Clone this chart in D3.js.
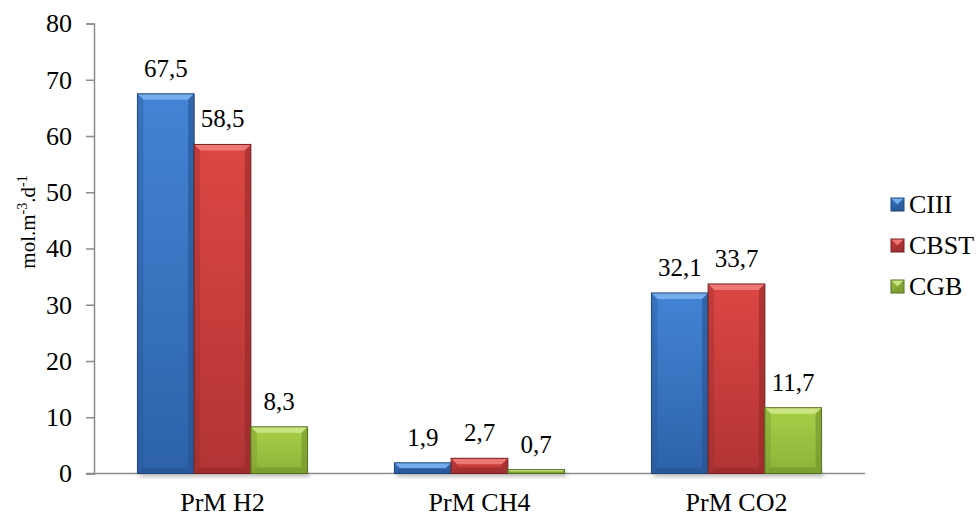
<!DOCTYPE html>
<html>
<head>
<meta charset="utf-8">
<script src="https://cdn.jsdelivr.net/npm/d3@7"></script>
<style>
  html, body { margin: 0; padding: 0; background: #fff; }
  svg { display: block; font-family: "Liberation Serif", "Times New Roman", serif; }
</style>
</head>
<body>
<svg id="chart" width="977" height="517"></svg>
<script>
// Production rates per reactor configuration
const categories = ["PrM H2", "PrM CH4", "PrM CO2"];
const seriesNames = ["CIII", "CBST", "CGB"];
const valuesCIII = [67.5, 1.9, 32.1];
const valuesCBST = [58.5, 2.7, 33.7];
const valuesCGB = [8.3, 0.7, 11.7];
const yTicks = [0, 10, 20, 30, 40, 50, 60, 70, 80];

const seriesValues = [valuesCIII, valuesCBST, valuesCGB];

// bar palettes: top / bottom body, bevel highlight, bevel shade, outline
const palettes = [
  { top: "#4384d4", bottom: "#2d62aa", light: "#7ab2ee", dark: "#24528f", stroke: "#1f4677" },
  { top: "#dc4744", bottom: "#b23434", light: "#f07d7a", dark: "#922a2a", stroke: "#762121" },
  { top: "#a9cf48", bottom: "#8db239", light: "#cfe78a", dark: "#71912c", stroke: "#566f22" }
];

const svg = d3.select("#chart");
const defs = svg.append("defs");

palettes.forEach((p, i) => {
  const g = defs.append("linearGradient")
    .attr("id", "body" + i).attr("x1", 0).attr("y1", 0).attr("x2", 0).attr("y2", 1);
  g.append("stop").attr("offset", "0%").attr("stop-color", p.top);
  g.append("stop").attr("offset", "100%").attr("stop-color", p.bottom);
});

const blur = defs.append("filter").attr("id", "shadow")
  .attr("x", "-20%").attr("y", "-50%").attr("width", "140%").attr("height", "200%");
blur.append("feGaussianBlur").attr("stdDeviation", 2);

const plotLeft = 94, plotRight = 865, plotTop = 23.5, plotBottom = 473.5;
const fontFamily = "Liberation Serif, Times New Roman, serif";

const x0 = d3.scaleBand()
  .domain(categories)
  .range([plotLeft, plotRight])
  .paddingInner(0.338)
  .paddingOuter(0.169);

const x1 = d3.scaleBand()
  .domain(seriesNames)
  .range([0, x0.bandwidth()]);

const y = d3.scaleLinear().domain([0, 80]).range([plotBottom, plotTop]);

// Y axis
const yAxis = svg.append("g")
  .attr("transform", `translate(${plotLeft},0)`)
  .call(d3.axisLeft(y).tickValues(yTicks).tickSize(8).tickPadding(14).tickFormat(d3.format("d")));
yAxis.attr("font-family", fontFamily);
yAxis.select(".domain").attr("stroke", "#8c8c8c").attr("stroke-width", 1.5);
yAxis.selectAll(".tick line").attr("stroke", "#8c8c8c").attr("stroke-width", 1.5);
yAxis.selectAll(".tick text")
  .attr("font-size", 26).attr("fill", "#000");

// Y axis title with superscripts
const title = svg.append("text")
  .attr("transform", "translate(35,222) rotate(-90)")
  .attr("text-anchor", "middle")
  .attr("font-size", 21)
  .attr("fill", "#000");
title.append("tspan").text("mol.m");
title.append("tspan").attr("dy", -8).attr("font-size", 14).text("-3");
title.append("tspan").attr("dy", 8).text(".d");
title.append("tspan").attr("dy", -8).attr("font-size", 14).text("-1");

// bevelled bar drawing
function drawBar(g, x, yTop, w, h, p, i) {
  const b = Math.min(6, h / 2, w / 2);
  g.append("rect").attr("x", x).attr("y", yTop).attr("width", w).attr("height", h)
    .attr("fill", `url(#body${i})`);
  const pts = arr => arr.map(d => d.join(",")).join(" ");
  g.append("polygon").attr("points", pts([[x, yTop], [x + w, yTop], [x + w - b, yTop + b], [x + b, yTop + b]]))
    .attr("fill", p.light).attr("opacity", 0.9);
  g.append("polygon").attr("points", pts([[x, yTop], [x + b, yTop + b], [x + b, yTop + h - b], [x, yTop + h]]))
    .attr("fill", p.dark).attr("opacity", 0.35);
  g.append("polygon").attr("points", pts([[x + w, yTop], [x + w - b, yTop + b], [x + w - b, yTop + h - b], [x + w, yTop + h]]))
    .attr("fill", p.dark).attr("opacity", 0.6);
  g.append("polygon").attr("points", pts([[x, yTop + h], [x + b, yTop + h - b], [x + w - b, yTop + h - b], [x + w, yTop + h]]))
    .attr("fill", p.dark).attr("opacity", 0.6);
  g.append("rect").attr("x", x).attr("y", yTop).attr("width", w).attr("height", h)
    .attr("fill", "none").attr("stroke", p.stroke).attr("stroke-width", 1);
}

// soft shadows under each group
const shadowLayer = svg.append("g");
categories.forEach(c => {
  shadowLayer.append("rect")
    .attr("x", x0(c) + 2).attr("y", plotBottom - 1)
    .attr("width", x0.bandwidth()).attr("height", 4)
    .attr("fill", "#000").attr("opacity", 0.3)
    .attr("filter", "url(#shadow)");
});

// X axis line
svg.append("line")
  .attr("x1", plotLeft - 8).attr("x2", plotRight)
  .attr("y1", plotBottom).attr("y2", plotBottom)
  .attr("stroke", "#8c8c8c").attr("stroke-width", 1.5);

// bars
const fmt = v => d3.format(".1f")(v).replace(".", ",");
const barLayer = svg.append("g");
const labelLayer = svg.append("g");
seriesNames.forEach((s, i) => {
  categories.forEach((c, j) => {
    const v = seriesValues[i][j];
    const bx = x0(c) + x1(s);
    const by = y(v);
    drawBar(barLayer.append("g"), bx, by, x1.bandwidth(), y(0) - by, palettes[i], i);
    labelLayer.append("text")
      .attr("x", bx + x1.bandwidth() / 2)
      .attr("y", by - 17)
      .attr("text-anchor", "middle")
      .attr("font-size", 25)
      .attr("fill", "#000")
      .text(fmt(v));
  });
});

// category labels
svg.append("g").selectAll("text").data(categories).join("text")
  .attr("x", d => x0(d) + x0.bandwidth() / 2)
  .attr("y", 511)
  .attr("text-anchor", "middle")
  .attr("font-size", 26)
  .attr("fill", "#000")
  .text(d => d);

// legend
const legend = svg.append("g");
seriesNames.forEach((s, i) => {
  const cy = 205 + i * 41;
  drawBar(legend.append("g"), 891, cy - 7, 13, 13, palettes[i], i);
  legend.append("text")
    .attr("x", 909).attr("y", cy + 8)
    .attr("font-size", 26).attr("fill", "#000")
    .text(s);
});
</script>
</body>
</html>
